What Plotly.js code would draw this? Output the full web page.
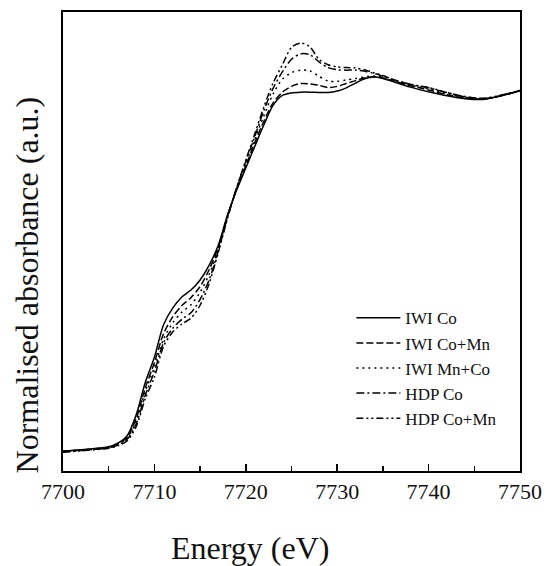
<!DOCTYPE html>
<html>
<head>
<meta charset="utf-8">
<script src="https://cdn.plot.ly/plotly-3.0.1.min.js"></script>
<style>html,body{margin:0;padding:0;background:#fff;}#chart{width:547px;height:566px;}</style>
</head>
<body>
<div id="chart"></div>
<script>
const energy = [7700, 7702, 7704, 7705, 7706, 7707, 7708, 7709, 7710, 7711, 7712, 7713, 7714, 7715, 7716, 7717, 7718, 7719, 7720, 7721, 7722, 7723, 7724, 7725, 7726, 7727, 7728, 7729, 7730, 7731, 7732, 7733, 7734, 7735, 7736, 7738, 7740, 7742, 7744, 7746, 7748, 7750];

const iwiCo = [0, 0.004, 0.009, 0.012, 0.022, 0.042, 0.10, 0.19, 0.26, 0.35, 0.396, 0.427, 0.446, 0.474, 0.515, 0.571, 0.654, 0.723, 0.784, 0.845, 0.905, 0.958, 0.985, 0.992, 0.994, 0.994, 0.993, 0.993, 0.997, 1.006, 1.019, 1.031, 1.036, 1.032, 1.024, 1.008, 0.995, 0.984, 0.976, 0.974, 0.984, 0.998];

const iwiCoMn = [0, 0.003, 0.008, 0.011, 0.02, 0.038, 0.09, 0.175, 0.245, 0.325, 0.372, 0.403, 0.425, 0.456, 0.503, 0.565, 0.652, 0.726, 0.79, 0.855, 0.915, 0.965, 0.994, 1.01, 1.018, 1.017, 1.013, 1.007, 1.01, 1.018, 1.026, 1.033, 1.037, 1.033, 1.026, 1.012, 1.0, 0.987, 0.978, 0.975, 0.985, 0.998];

const iwiMnCo = [0, 0.003, 0.007, 0.01, 0.019, 0.035, 0.082, 0.165, 0.232, 0.31, 0.355, 0.385, 0.405, 0.44, 0.49, 0.56, 0.65, 0.728, 0.797, 0.865, 0.93, 0.99, 1.03, 1.048, 1.055, 1.053, 1.038, 1.025, 1.024, 1.028, 1.032, 1.036, 1.039, 1.035, 1.028, 1.014, 1.003, 0.99, 0.98, 0.976, 0.985, 0.998];

const hdpCo = [-0.002, 0.002, 0.006, 0.009, 0.017, 0.032, 0.075, 0.155, 0.22, 0.30, 0.34, 0.365, 0.383, 0.42, 0.475, 0.555, 0.648, 0.73, 0.802, 0.872, 0.945, 1.005, 1.05, 1.085, 1.1, 1.098, 1.078, 1.062, 1.056, 1.055, 1.055, 1.052, 1.046, 1.038, 1.03, 1.016, 1.006, 0.993, 0.982, 0.976, 0.985, 0.999];

const hdpCoMn = [-0.003, 0.001, 0.005, 0.008, 0.015, 0.028, 0.068, 0.145, 0.205, 0.29, 0.33, 0.352, 0.368, 0.404, 0.465, 0.551, 0.645, 0.729, 0.806, 0.88, 0.955, 1.02, 1.07, 1.118, 1.13, 1.12, 1.085, 1.07, 1.064, 1.062, 1.061, 1.056, 1.048, 1.04, 1.03, 1.015, 1.007, 0.993, 0.981, 0.977, 0.986, 0.999];

const seriesNames = ["IWI Co", "IWI Co+Mn", "IWI Mn+Co", "HDP Co", "HDP Co+Mn"];
const seriesData = [iwiCo, iwiCoMn, iwiMnCo, hdpCo, hdpCoMn];
const dashes = ["solid", "7px,3px", "2px,4px", "8px,3px,2px,3px", "7px,3px,2px,3px,2px,3px"];
const tickValues = [7700, 7710, 7720, 7730, 7740, 7750];
const tickLabels = ["7700", "7710", "7720", "7730", "7740", "7750"];
const xTitle = "Energy (eV)";
const yTitle = "Normalised absorbance (a.u.)";

const traces = seriesNames.map((n, i) => ({
  x: energy, y: seriesData[i], name: n, type: "scatter", mode: "lines",
  line: {color: "#000", width: 1.5, dash: dashes[i], shape: "spline", smoothing: 0.8}
}));

const font = "'Liberation Serif', 'DejaVu Serif', serif";
const layout = {
  width: 547, height: 566,
  margin: {l: 63, r: 27, t: 12, b: 95},
  paper_bgcolor: "#fff", plot_bgcolor: "#fff",
  font: {family: font, color: "#111"},
  showlegend: true,
  legend: {x: 0.631, y: 0.372, xanchor: "left", yanchor: "top", bgcolor: "rgba(0,0,0,0)",
           itemwidth: 44, font: {family: font, size: 17, color: "#111"}, tracegroupgap: 0},
  xaxis: {
    range: [7700, 7750], tickvals: tickValues, ticktext: tickLabels,
    ticks: "inside", ticklen: 7, tickwidth: 1.5, tickcolor: "#000",
    minor: {dtick: 5, tick0: 7700, ticks: "inside", ticklen: 5, tickwidth: 1.5, tickcolor: "#000"},
    showline: true, mirror: true, linecolor: "#000", linewidth: 1.8,
    showgrid: false, zeroline: false,
    tickfont: {family: font, size: 22, color: "#111"}
  },
  yaxis: {
    range: [-0.055, 1.216], showticklabels: false, ticks: "",
    showline: true, mirror: true, linecolor: "#000", linewidth: 1.8,
    showgrid: false, zeroline: false
  },
  annotations: [
    {text: xTitle, xref: "paper", yref: "paper", x: 0.409, y: -0.168, xanchor: "center", yanchor: "middle",
     showarrow: false, font: {family: font, size: 32, color: "#111"}},
    {text: yTitle, xref: "paper", yref: "paper", x: -0.078, y: 0.405, xanchor: "center", yanchor: "middle",
     textangle: -90, showarrow: false, font: {family: font, size: 32, color: "#111"}}
  ]
};
Plotly.newPlot("chart", traces, layout, {displayModeBar: false, staticPlot: true});
</script>
</body>
</html>
